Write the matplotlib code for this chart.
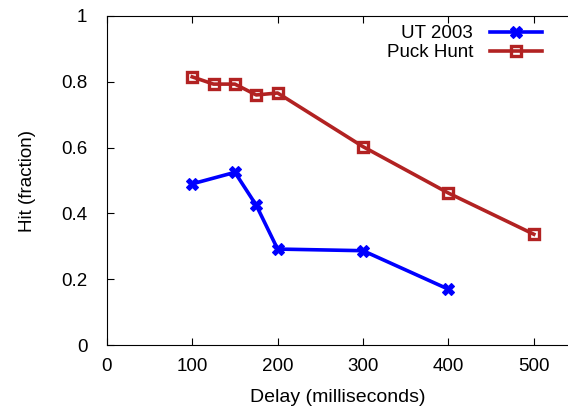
import matplotlib
matplotlib.use("Agg")
import matplotlib.pyplot as plt

plt.rcParams['font.family'] = ['Liberation Sans', 'DejaVu Sans']

# hit fraction vs. network delay
ut_delay = [100, 150, 175, 200, 300, 400]
ut_hit = [0.49, 0.525, 0.425, 0.292, 0.287, 0.170]

puck_delay = [100, 125, 150, 175, 200, 300, 400, 500]
puck_hit = [0.815, 0.793, 0.793, 0.760, 0.766, 0.603, 0.462, 0.337]

fig = plt.figure(figsize=(5.68, 4.09), dpi=100)
ax = fig.add_axes([0.188, 0.156, 0.812, 0.805])

ax.plot(ut_delay, ut_hit, color='#0000ff', lw=2.6, marker='X',
        markersize=8, markeredgewidth=0.8, label='UT 2003')
ax.plot(puck_delay, puck_hit, color='#b22222', lw=2.6, marker='s',
        markersize=7, markerfacecolor='none', markeredgewidth=2.4,
        label='Puck Hunt')

ax.set_xlim(0, 540)
ax.set_ylim(0, 1)
ax.set_xticks([0, 100, 200, 300, 400, 500])
ax.set_yticks([0, 0.2, 0.4, 0.6, 0.8, 1])
ax.set_yticklabels(['0', '0.2', '0.4', '0.6', '0.8', '1'])
ax.tick_params(axis='both', direction='in', top=True, right=False, length=5,
               labelsize=13.5)
ax.tick_params(axis='x', pad=9)
ax.tick_params(axis='y', pad=14)
ax.spines['right'].set_visible(False)

ax.set_xlabel('Delay (milliseconds)', fontsize=14, labelpad=10)
ax.set_ylabel('Hit (fraction)', fontsize=13.5, labelpad=18)

ax.legend(loc='upper right', bbox_to_anchor=(0.965, 1.0), frameon=False,
          markerfirst=False, fontsize=13.5, handlelength=2.8,
          labelspacing=0.1, handletextpad=0.9, borderaxespad=0.1)

fig.savefig('out.png', dpi=100)
